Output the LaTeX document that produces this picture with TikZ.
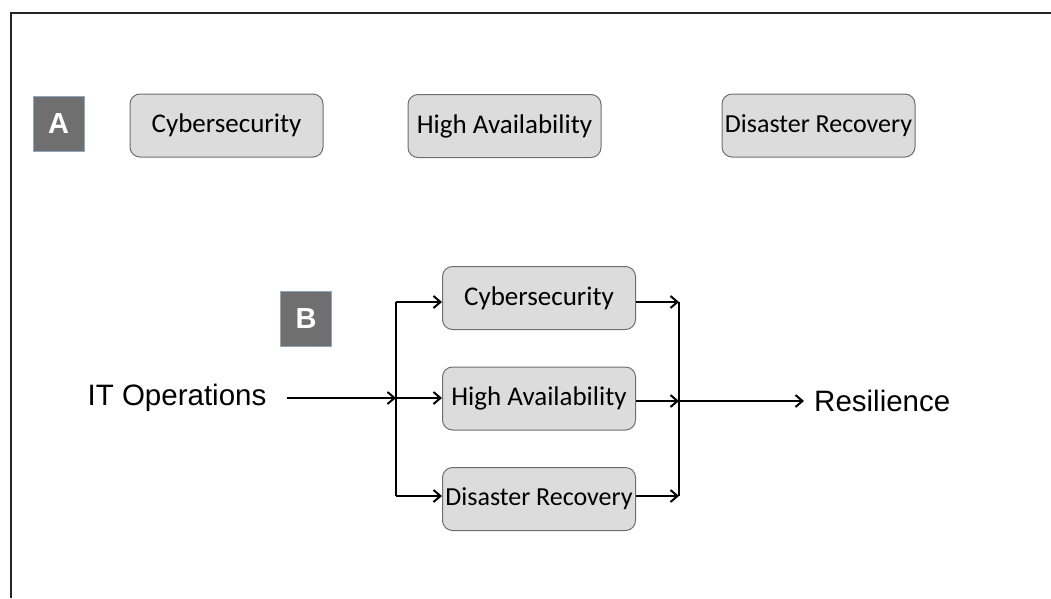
\documentclass[tikz,border=0pt]{standalone}
\usepackage{fontspec}
\setmainfont{Carlito}
\newfontfamily\arialfont{Liberation Sans}
\usetikzlibrary{arrows.meta}
\definecolor{boxfill}{HTML}{DCDCDC}
\definecolor{boxline}{HTML}{6E6E6E}
\definecolor{tagfill}{HTML}{6F6F6F}
\definecolor{tagline}{HTML}{8FA6BF}
\tikzset{
  x=1pt, y=-1pt,
  blockbox/.style={draw=boxline, line width=1pt, fill=boxfill, rounded corners=10pt,
    minimum width=193pt, minimum height=63pt, inner sep=0pt,
    font=\fontsize{27}{31}\selectfont},
  narrowtext/.style={font=\fontsize{26}{30}\selectfont},
  tagbox/.style={draw=tagline, line width=0.8pt, fill=tagfill, minimum width=51pt,
    minimum height=55pt, inner sep=0pt, text=white,
    font=\arialfont\bfseries\fontsize{29}{33}\selectfont},
  plain/.style={inner sep=0pt, font=\arialfont\fontsize{29.5}{34}\selectfont},
  flow/.style={line width=2pt, -{Straight Barb[length=7pt,width=12pt,line width=2pt]}},
  wire/.style={line width=2pt},
  frame/.style={line width=2.8pt, black!85}
}
\begin{document}
\begin{tikzpicture}
\useasboundingbox (0,0) rectangle (1051,598);
% frame
\draw[frame] (11,598) -- (11,13) -- (1051,13);

% part A
\node[tagbox] (tagA) at (58.5,123.5) {A};
\node[blockbox] (a1) at (226.5,125.5) {Cybersecurity};
\node[blockbox] (a2) at (504.5,126) {High Availability};
\node[blockbox, narrowtext] (a3) at (818.5,125.5) {Disaster Recovery};

% part B
\node[tagbox] (tagB) at (306,318.5) {B};
\node[blockbox] (b1) at (539,298) {Cybersecurity};
\node[blockbox] (b2) at (539,398.5) {High Availability};
\node[blockbox, narrowtext] (b3) at (539,499) {Disaster Recovery};
\node[plain] (src) at (177,398) {IT Operations};
\node[plain, anchor=west] (dst) at (814,401) {Resilience};

% split and join points
\coordinate (s1) at (396,302);
\coordinate (s2) at (396,398);
\coordinate (s3) at (396,496);
\coordinate (j1) at (679,302);
\coordinate (j2) at (679,401);
\coordinate (j3) at (679,496);

\draw[flow] (287,398) -- (s2);
\draw[wire] (s1) -- (s3);
\draw[flow] (s1) -- (b1.west |- s1);
\draw[flow] (s2) -- (b2.west |- s2);
\draw[flow] (s3) -- (b3.west |- s3);

\draw[flow] (b1.east |- j1) -- (j1);
\draw[flow] (b2.east |- j2) -- (j2);
\draw[flow] (b3.east |- j3) -- (j3);
\draw[wire] (j1) -- (j3);
\draw[flow, shorten >=10pt] (j2) -- (dst.west);
\end{tikzpicture}
\end{document}
